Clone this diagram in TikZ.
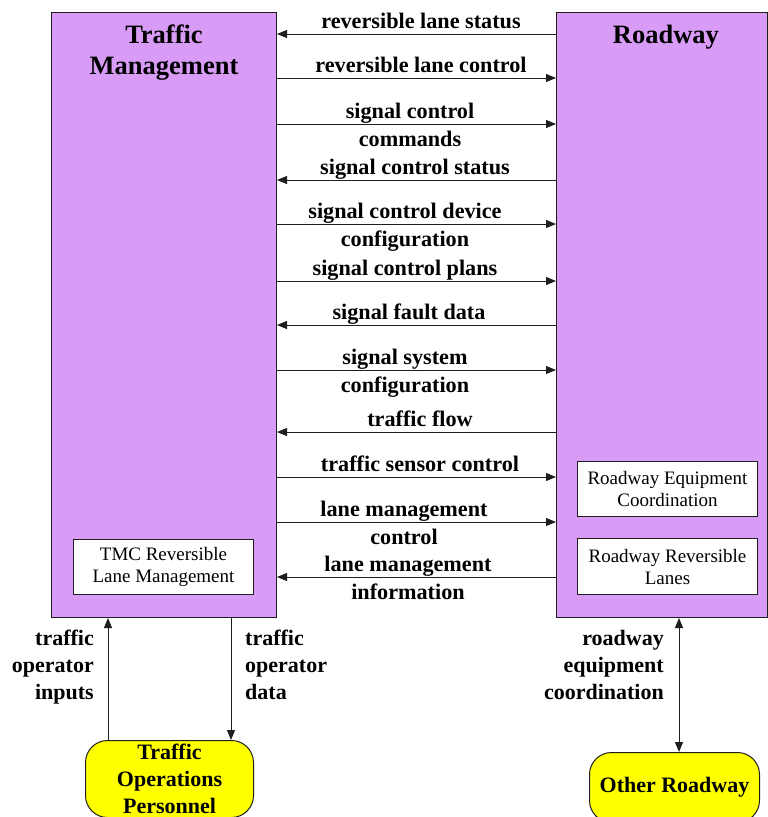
\documentclass[tikz,border=0pt]{standalone}
\usepackage{fontspec}
\setmainfont{Liberation Serif}
\usetikzlibrary{arrows.meta}
\definecolor{purp}{RGB}{216,156,246}
\definecolor{yel}{RGB}{255,255,0}
\definecolor{edge}{RGB}{30,30,30}
\begin{document}
\begin{tikzpicture}[x=1pt,y=-1pt,
  bigbox/.style={draw=edge, fill=purp, line width=1pt, rectangle, inner sep=0pt, anchor=north west},
  innerbox/.style={draw=edge, fill=white, line width=1pt, rectangle, inner sep=0pt, anchor=north west, align=center, font=\fontsize{19}{22}\selectfont},
  term/.style={draw=edge, fill=yel, line width=1pt, rounded corners=22pt, rectangle, inner sep=0pt, anchor=north west, align=center, font=\fontsize{22}{27}\selectfont\bfseries},
  title/.style={font=\fontsize{26.5}{31}\selectfont\bfseries, align=center, inner sep=0pt},
  lbl/.style={font=\fontsize{22.2}{28}\selectfont\bfseries, align=center, inner sep=0pt, anchor=base},
  sidelbl/.style={font=\fontsize{22}{27}\selectfont\bfseries, inner sep=0pt},
  flow/.style={line width=1pt, draw=edge, -{Triangle[length=10pt,width=8pt]}},
  bflow/.style={line width=1pt, draw=edge, {Triangle[length=10pt,width=8pt]}-{Triangle[length=10pt,width=8pt]}}
]
\useasboundingbox (0,0) rectangle (768,817);
\fill[white] (0,0) rectangle (768,817);

% main boxes
\node[bigbox, minimum width=225pt, minimum height=605pt] (tm) at (51,12) {};
\node[bigbox, minimum width=211pt, minimum height=605pt] (rw) at (556,12) {};
\node[title, anchor=base] (tmt) at (164,74) {Traffic\\Management};
\node[title, anchor=base] (rwt) at (666,43) {Roadway};

% inner boxes
\node[innerbox, minimum width=180pt, minimum height=55pt] (tmc) at (73,539) {TMC Reversible\\Lane Management};
\node[innerbox, minimum width=180pt, minimum height=55pt] (rec) at (577,461) {Roadway Equipment\\Coordination};
\node[innerbox, minimum width=180pt, minimum height=56pt] (rrl) at (577,538) {Roadway Reversible\\Lanes};

% terminators
\node[term, minimum width=168pt, minimum height=77pt] (top) at (85,740) {Traffic\\Operations\\Personnel};
\node[term, minimum width=170pt, minimum height=70pt] (oth) at (589,752) {Other Roadway};

% flows between Traffic Management and Roadway
\draw[flow] (rw.west |- 0,34) -- (tm.east |- 0,34);
\node[lbl] at (421,28) {reversible lane status};
\draw[flow] (tm.east |- 0,78) -- (rw.west |- 0,78);
\node[lbl] at (421,72) {reversible lane control};
\draw[flow] (tm.east |- 0,124) -- (rw.west |- 0,124);
\node[lbl] at (410,146) {signal control\\commands};
\draw[flow] (rw.west |- 0,180) -- (tm.east |- 0,180);
\node[lbl] at (415,174) {signal control status};
\draw[flow] (tm.east |- 0,224) -- (rw.west |- 0,224);
\node[lbl] at (405,246) {signal control device\\configuration};
\draw[flow] (tm.east |- 0,281) -- (rw.west |- 0,281);
\node[lbl] at (405,275) {signal control plans};
\draw[flow] (rw.west |- 0,325) -- (tm.east |- 0,325);
\node[lbl] at (409,319) {signal fault data};
\draw[flow] (tm.east |- 0,370) -- (rw.west |- 0,370);
\node[lbl] at (405,392) {signal system\\configuration};
\draw[flow] (rw.west |- 0,432) -- (tm.east |- 0,432);
\node[lbl] at (420,426) {traffic flow};
\draw[flow] (tm.east |- 0,477) -- (rw.west |- 0,477);
\node[lbl] at (420,471) {traffic sensor control};
\draw[flow] (tm.east |- 0,522) -- (rw.west |- 0,522);
\node[lbl] at (404,544) {lane management\\control};
\draw[flow] (rw.west |- 0,577) -- (tm.east |- 0,577);
\node[lbl] at (408,599) {lane management\\information};

% vertical flows
\draw[flow] (top.north -| 108,0) -- (tm.south -| 108,0);
\node[sidelbl, align=right, anchor=north east] at (94,630) {traffic\\operator\\inputs};
\draw[flow] (tm.south -| 231,0) -- (top.north -| 231,0);
\node[sidelbl, align=left, anchor=north west] at (245,630) {traffic\\operator\\data};
\draw[bflow] (rw.south -| 679,0) -- (oth.north -| 679,0);
\node[sidelbl, align=right, anchor=north east] at (664,630) {roadway\\equipment\\coordination};
\end{tikzpicture}
\end{document}
